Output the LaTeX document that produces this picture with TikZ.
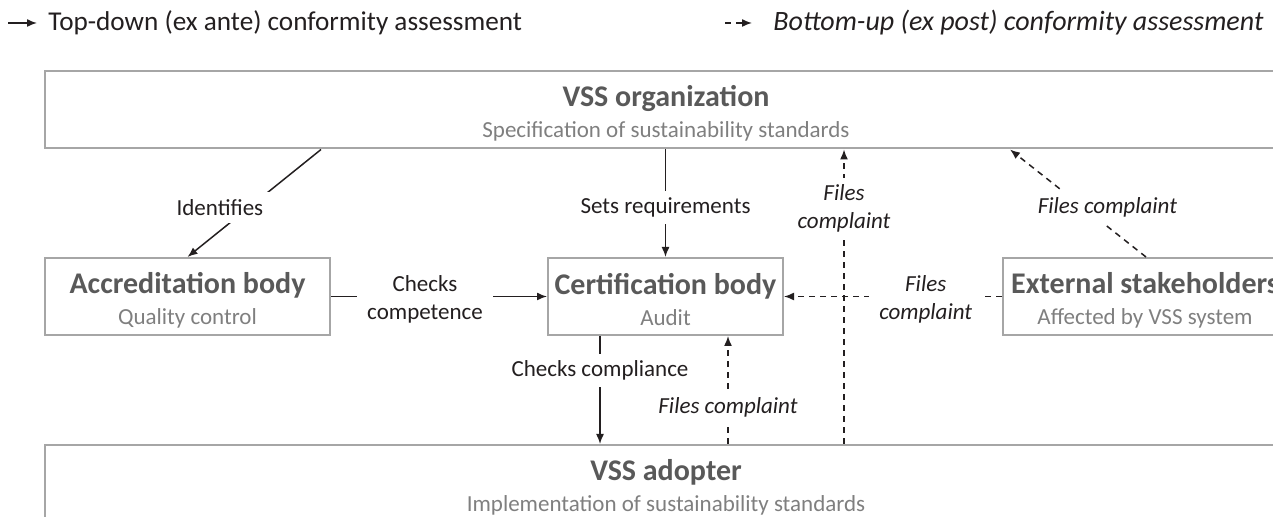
\documentclass[tikz,border=0pt]{standalone}
\usepackage{fontspec}
\setmainfont{Carlito}
\usetikzlibrary{
	positioning				% relative placement
	, arrows.meta			% arrow tips
	, calc					% offsets along box edges
}

\definecolor{boxgray}{HTML}{A6A6A6}
\definecolor{titlegray}{HTML}{595959}
\definecolor{subgray}{HTML}{7F7F7F}
\definecolor{inkblack}{HTML}{231F20}

% Two lines inside each box: bold name, then role
\newcommand{\boxtext}[2]{{\fontsize{15}{16}\selectfont\bfseries\color{titlegray}\rule{0pt}{14pt}#1}\\[3.5pt]{\fontsize{11.5}{16}\selectfont\color{subgray}#2}}

\begin{document}
\begin{tikzpicture}[
		x=0.5pt, y=-0.5pt
		, box/.style={draw=boxgray, line width=1pt, minimum height=38.5pt, align=center, inner sep=0pt}
		, lbl/.style={fill=white, align=center, text=inkblack, inner xsep=5pt, inner ysep=3.5pt,
			font=\fontsize{11.5}{14}\selectfont}
		, complaint/.style={lbl, font=\fontsize{11.5}{14}\selectfont\itshape}
		, topdown/.style={-{Latex[length=5pt,width=4pt]}, line width=0.75pt, draw=inkblack}
		, bottomup/.style={topdown, dash pattern=on 3pt off 2.5pt}
	]
	\useasboundingbox (0,0) rectangle (1273,517);
	\clip (0,0) rectangle (1273,517);

	% Legend
	\node [anchor=west, inner sep=0pt, text=inkblack, font=\fontsize{13.6}{14}\selectfont] (topdownkey) at (48,23) {Top-down (ex ante) conformity assessment};
	\node [anchor=west, inner sep=0pt, text=inkblack, font=\fontsize{14}{14}\selectfont\itshape] (bottomupkey) at (773,23) {Bottom-up (ex post) conformity assessment};
	\coordinate (topdownstart) at (8,23);
	\coordinate (bottomupstart) at (725,23);
	\draw [topdown] (topdownstart) -- ($(topdownkey.west)+(-11,0)$);
	\draw [bottomup] (bottomupstart) -- ($(bottomupkey.west)+(-21,0)$);

	% The actors of the VSS system
	\node [box, minimum width=621pt] (organization) at (666,110) {\boxtext{VSS organization}{Specification of sustainability standards}};
	\node [box, minimum width=142.5pt] (accreditation) at (187.5,296.5) {\boxtext{Accreditation body}{Quality control}};
	\node [box, minimum width=117.5pt] (certification) at (665.5,296.5) {\boxtext{Certification body}{Audit}};
	\node [box, minimum width=142pt] (stakeholders) at (1145,296.5) {\boxtext{External stakeholders}{Affected by VSS system}};
	\node [box, minimum width=621pt] (adopter) at (666,483.5) {\boxtext{VSS adopter}{Implementation of sustainability standards}};

	% Where the connectors leave the box edges
	\coordinate (identifyfrom) at ($(organization.south west)+(277,0)$);
	\coordinate (complydrop) at ($(certification.south west)+(53,0)$);
	\coordinate (auditup) at ($(certification.south west)+(181,0)$);
	\coordinate (orgup) at ($(organization.south west)+(800,0)$);
	\coordinate (stakeup) at ($(stakeholders.north west)+(144,0)$);
	\coordinate (stakeend) at ($(organization.south west)+(966,0)$);

	% Top-down assessment
	\draw [topdown] (identifyfrom) -- node [lbl, pos=0.54, xshift=-14.5pt] {Identifies} (accreditation.north);
	\draw [topdown] (organization.south -| certification.north) -- node [lbl, pos=0.54] {Sets requirements} (certification.north);
	\draw [topdown] (accreditation.east) -- node [lbl, xshift=-7pt, yshift=-1.5pt] {Checks\\competence} (certification.west);
	\draw [topdown] (complydrop) -- node [lbl, pos=0.32] {Checks compliance} (complydrop |- adopter.north);

	% Bottom-up assessment
	\draw [bottomup] (auditup |- adopter.north) -- node [complaint, pos=0.34] {Files complaint} (auditup);
	\draw [bottomup] (orgup |- adopter.north) -- node [complaint, pos=0.81, yshift=-1.5pt] {Files\\complaint} (orgup);
	\draw [bottomup] (stakeholders.west) -- node [complaint, pos=0.35, yshift=-1.5pt] {Files\\complaint} (certification.east);
	\draw [bottomup] (stakeup) -- node [complaint, pos=0.46, xshift=12pt] {Files complaint} (stakeend);
\end{tikzpicture}
\end{document}
